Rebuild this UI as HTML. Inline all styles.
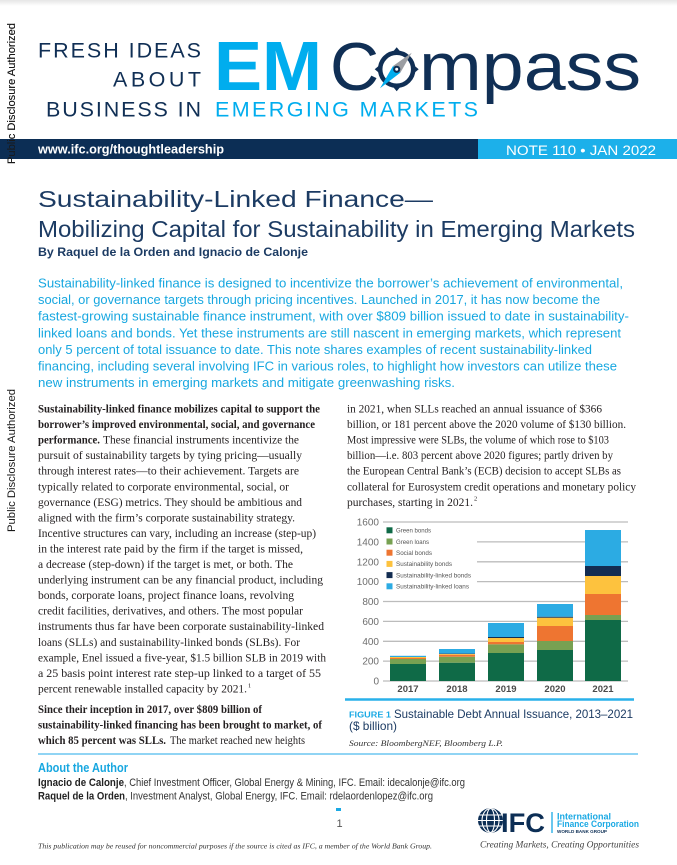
<!DOCTYPE html>
<html><head><meta charset="utf-8">
<style>
html,body{margin:0;padding:0;background:#fff;width:677px;height:865px;overflow:hidden;}
svg{display:block;}
</style></head><body>
<svg width="677" height="865" viewBox="0 0 677 865" xmlns="http://www.w3.org/2000/svg">
<defs>
<linearGradient id="topg" x1="0" y1="0" x2="0" y2="1"><stop offset="0" stop-color="#e6e6e6"/><stop offset="1" stop-color="#ffffff"/></linearGradient>
</defs>
<rect x="0" y="0" width="677" height="865" fill="#fff"/>
<rect x="0" y="0" width="677" height="6" fill="url(#topg)"/>

<!-- HEADER -->
<g font-family="Liberation Sans, sans-serif" fill="#102f55">
<text x="38" y="57.5" font-size="21.5" textLength="163" lengthAdjust="spacing">FRESH IDEAS</text>
<text x="113" y="86.5" font-size="21.5" textLength="88" lengthAdjust="spacing">ABOUT</text>
<text x="46" y="116.5" font-size="21.5" textLength="155" lengthAdjust="spacing">BUSINESS IN</text>
<text x="215" y="116.5" font-size="21.5" textLength="263" lengthAdjust="spacing" fill="#00adee">EMERGING MARKETS</text>
<text x="214" y="90" font-size="70" font-weight="bold" textLength="108" lengthAdjust="spacingAndGlyphs" fill="#00adee">EM</text>
<text x="330" y="90" font-size="68">C</text>
<text x="419" y="90" font-size="68" textLength="222" lengthAdjust="spacingAndGlyphs">mpass</text>
</g>
<!-- compass icon -->
<g transform="translate(396.7,69.3)">
<path d="M0,-22 L5,-16 L-5,-16 Z M22,0 L16,5 L16,-5 Z M0,22 L5,16 L-5,16 Z M-22,0 L-16,5 L-16,-5 Z" fill="#102f55"/>
<circle cx="0" cy="0" r="16.5" fill="none" stroke="#102f55" stroke-width="4.5"/>
<polygon points="15,-16.6 3.7,3.35 -3.7,-3.35" fill="#9b9ea3"/>
<polygon points="-16.7,19 3.7,3.35 -3.7,-3.35" fill="#00adee"/>
<circle cx="0" cy="0" r="3.6" fill="#102f55"/>
<circle cx="0" cy="0" r="1.5" fill="#fff"/>
</g>

<!-- side disclosure text -->
<g font-family="Liberation Sans, sans-serif" font-size="11" fill="#1a1a1a">
<text transform="translate(15,164) rotate(-90)" textLength="141" lengthAdjust="spacingAndGlyphs">Public Disclosure Authorized</text>
<text transform="translate(15,532) rotate(-90)" textLength="143" lengthAdjust="spacingAndGlyphs">Public Disclosure Authorized</text>
</g>

<!-- bar -->
<rect x="20" y="139" width="458" height="20" fill="#0c2e55"/>
<rect x="0" y="139" width="20" height="20" fill="#0c2e55"/>
<rect x="478" y="139" width="199" height="20" fill="#1cb0ea"/>
<g font-family="Liberation Sans, sans-serif" fill="#fff">
<text x="38" y="153.5" font-size="12.5" font-weight="bold" textLength="186" lengthAdjust="spacingAndGlyphs">www.ifc.org/thoughtleadership</text>
<text x="506" y="155" font-size="13.5" textLength="150" lengthAdjust="spacingAndGlyphs">NOTE 110  •  JAN 2022</text>
</g>
<!-- redraw side text over bar -->
<g font-family="Liberation Sans, sans-serif" font-size="11" fill="#1a1a1a">
<text transform="translate(15,164) rotate(-90)" textLength="141" lengthAdjust="spacingAndGlyphs">Public Disclosure Authorized</text>
</g>

<!-- TITLE -->
<g font-family="Liberation Sans, sans-serif" fill="#1c3b63">
<text x="38" y="207" font-size="23.5" textLength="395" lengthAdjust="spacingAndGlyphs">Sustainability-Linked Finance—</text>
<text x="38" y="237" font-size="23" textLength="597" lengthAdjust="spacingAndGlyphs">Mobilizing Capital for Sustainability in Emerging Markets</text>
<text x="38" y="256" font-size="12" font-weight="bold" textLength="270" lengthAdjust="spacingAndGlyphs">By Raquel de la Orden and Ignacio de Calonje</text>
</g>

<!-- BLUE INTRO -->
<g font-family="Liberation Sans, sans-serif" font-size="12.6" fill="#17a7e0">
<text x="38" y="287.5" textLength="585" lengthAdjust="spacingAndGlyphs">Sustainability-linked finance is designed to incentivize the borrower’s achievement of environmental,</text>
<text x="38" y="304.1" textLength="562" lengthAdjust="spacingAndGlyphs">social, or governance targets through pricing incentives. Launched in 2017, it has now become the</text>
<text x="38" y="320.7" textLength="591" lengthAdjust="spacingAndGlyphs">fastest-growing sustainable finance instrument, with over $809 billion issued to date in sustainability-</text>
<text x="38" y="337.3" textLength="583" lengthAdjust="spacingAndGlyphs">linked loans and bonds. Yet these instruments are still nascent in emerging markets, which represent</text>
<text x="38" y="353.9" textLength="554" lengthAdjust="spacingAndGlyphs">only 5 percent of total issuance to date. This note shares examples of recent sustainability-linked</text>
<text x="38" y="370.5" textLength="579" lengthAdjust="spacingAndGlyphs">financing, including several involving IFC in various roles, to highlight how investors can utilize these</text>
<text x="38" y="387.1" textLength="417" lengthAdjust="spacingAndGlyphs">new instruments in emerging markets and mitigate greenwashing risks.</text>
</g>

<!-- LEFT COLUMN -->
<g font-family="Liberation Serif, serif" font-size="11.4" fill="#231f20">
<text x="38" y="412.5" font-weight="bold" textLength="282" lengthAdjust="spacingAndGlyphs">Sustainability-linked finance mobilizes capital to support the</text>
<text x="38" y="428.05" font-weight="bold" textLength="277" lengthAdjust="spacingAndGlyphs">borrower’s improved environmental, social, and governance</text>
<text x="38" y="443.6" font-weight="bold" textLength="62" lengthAdjust="spacingAndGlyphs">performance.</text>
<text x="103" y="443.6" textLength="196" lengthAdjust="spacingAndGlyphs">These financial instruments incentivize the</text>
<text x="38" y="459.15" textLength="264" lengthAdjust="spacingAndGlyphs">pursuit of sustainability targets by tying pricing—usually</text>
<text x="38" y="474.7" textLength="261" lengthAdjust="spacingAndGlyphs">through interest rates—to their achievement. Targets are</text>
<text x="38" y="490.25" textLength="251" lengthAdjust="spacingAndGlyphs">typically related to corporate environmental, social, or</text>
<text x="38" y="505.8" textLength="264" lengthAdjust="spacingAndGlyphs">governance (ESG) metrics. They should be ambitious and</text>
<text x="38" y="521.35" textLength="257" lengthAdjust="spacingAndGlyphs">aligned with the firm’s corporate sustainability strategy.</text>
<text x="38" y="536.9" textLength="278" lengthAdjust="spacingAndGlyphs">Incentive structures can vary, including an increase (step-up)</text>
<text x="38" y="552.45" textLength="265" lengthAdjust="spacingAndGlyphs">in the interest rate paid by the firm if the target is missed,</text>
<text x="38" y="568" textLength="255" lengthAdjust="spacingAndGlyphs">a decrease (step-down) if the target is met, or both. The</text>
<text x="38" y="583.55" textLength="285" lengthAdjust="spacingAndGlyphs">underlying instrument can be any financial product, including</text>
<text x="38" y="599.1" textLength="256" lengthAdjust="spacingAndGlyphs">bonds, corporate loans, project finance loans, revolving</text>
<text x="38" y="614.65" textLength="265" lengthAdjust="spacingAndGlyphs">credit facilities, derivatives, and others. The most popular</text>
<text x="38" y="630.2" textLength="286" lengthAdjust="spacingAndGlyphs">instruments thus far have been corporate sustainability-linked</text>
<text x="38" y="645.75" textLength="262" lengthAdjust="spacingAndGlyphs">loans (SLLs) and sustainability-linked bonds (SLBs). For</text>
<text x="38" y="661.3" textLength="288" lengthAdjust="spacingAndGlyphs">example, Enel issued a five-year, $1.5 billion SLB in 2019 with</text>
<text x="38" y="676.85" textLength="283" lengthAdjust="spacingAndGlyphs">a 25 basis point interest rate step-up linked to a target of 55</text>
<text x="38" y="692.4" textLength="209" lengthAdjust="spacingAndGlyphs">percent renewable installed capacity by 2021.</text>
<text x="248" y="687.5" font-size="6.5">1</text>
<text x="38" y="712.8" font-weight="bold" textLength="224" lengthAdjust="spacingAndGlyphs">Since their inception in 2017, over $809 billion of</text>
<text x="38" y="728.4" font-weight="bold" textLength="284" lengthAdjust="spacingAndGlyphs">sustainability-linked financing has been brought to market, of</text>
<text x="38" y="744" font-weight="bold" textLength="128" lengthAdjust="spacingAndGlyphs">which 85 percent was SLLs.</text>
<text x="170" y="744" textLength="135" lengthAdjust="spacingAndGlyphs">The market reached new heights</text>
</g>

<!-- RIGHT COLUMN -->
<g font-family="Liberation Serif, serif" font-size="11.4" fill="#231f20">
<text x="347" y="412.5" textLength="255" lengthAdjust="spacingAndGlyphs">in 2021, when SLLs reached an annual issuance of $366</text>
<text x="347" y="428.05" textLength="279" lengthAdjust="spacingAndGlyphs">billion, or 181 percent above the 2020 volume of $130 billion.</text>
<text x="347" y="443.6" textLength="262" lengthAdjust="spacingAndGlyphs">Most impressive were SLBs, the volume of which rose to $103</text>
<text x="347" y="459.15" textLength="266" lengthAdjust="spacingAndGlyphs">billion—i.e. 803 percent above 2020 figures; partly driven by</text>
<text x="347" y="474.7" textLength="274" lengthAdjust="spacingAndGlyphs">the European Central Bank’s (ECB) decision to accept SLBs as</text>
<text x="347" y="490.25" textLength="289" lengthAdjust="spacingAndGlyphs">collateral for Eurosystem credit operations and monetary policy</text>
<text x="347" y="505.8" textLength="126" lengthAdjust="spacingAndGlyphs">purchases, starting in 2021.</text>
<text x="474" y="500.5" font-size="6.5">2</text>
</g>

<!-- CHART -->
<g stroke="#bcbcbc" stroke-width="1.3">
<line x1="383" y1="522" x2="628" y2="522"/>
<line x1="383" y1="541.9" x2="628" y2="541.9"/>
<line x1="383" y1="561.8" x2="628" y2="561.8"/>
<line x1="383" y1="581.6" x2="628" y2="581.6"/>
<line x1="383" y1="601.5" x2="628" y2="601.5"/>
<line x1="383" y1="621.4" x2="628" y2="621.4"/>
<line x1="383" y1="641.3" x2="628" y2="641.3"/>
<line x1="383" y1="661.1" x2="628" y2="661.1"/>
<line x1="383" y1="681" x2="628" y2="681"/>
</g>
<g font-family="Liberation Sans, sans-serif" font-size="10" fill="#6e6e6e" text-anchor="end">
<text x="379" y="525.5">1600</text>
<text x="379" y="545.4">1400</text>
<text x="379" y="565.3">1200</text>
<text x="379" y="585.1">1000</text>
<text x="379" y="605">800</text>
<text x="379" y="624.9">600</text>
<text x="379" y="644.8">400</text>
<text x="379" y="664.6">200</text>
<text x="379" y="684.5">0</text>
</g>
<!-- legend -->
<rect x="383" y="525.5" width="94" height="68" fill="#fff"/>
<rect x="386.5" y="527.3" width="6" height="6" fill="#0f6a47"/>
<rect x="386.5" y="538.5" width="6" height="6" fill="#77a152"/>
<rect x="386.5" y="549.7" width="6" height="6" fill="#ee7531"/>
<rect x="386.5" y="560.9" width="6" height="6" fill="#fdc23e"/>
<rect x="386.5" y="572.1" width="6" height="6" fill="#132d52"/>
<rect x="386.5" y="583.3" width="6" height="6" fill="#2cabe3"/>
<g font-family="Liberation Sans, sans-serif" font-size="6.5" fill="#555">
<text x="396" y="532.6" textLength="35" lengthAdjust="spacingAndGlyphs">Green bonds</text>
<text x="396" y="543.8" textLength="33" lengthAdjust="spacingAndGlyphs">Green loans</text>
<text x="396" y="555" textLength="36" lengthAdjust="spacingAndGlyphs">Social bonds</text>
<text x="396" y="566.2" textLength="56" lengthAdjust="spacingAndGlyphs">Sustainability bonds</text>
<text x="396" y="577.4" textLength="75" lengthAdjust="spacingAndGlyphs">Sustainability-linked bonds</text>
<text x="396" y="588.6" textLength="73" lengthAdjust="spacingAndGlyphs">Sustainability-linked loans</text>
</g>
<!-- bars -->
<g>
<!-- 2017 -->
<rect x="390" y="664" width="36" height="17" fill="#0f6a47"/>
<rect x="390" y="659" width="36" height="5" fill="#77a152"/>
<rect x="390" y="658" width="36" height="1" fill="#ee7531"/>
<rect x="390" y="657" width="36" height="1" fill="#fdc23e"/>
<rect x="390" y="655.8" width="36" height="1.2" fill="#2cabe3"/>
<!-- 2018 -->
<rect x="439" y="662.7" width="36" height="18.3" fill="#0f6a47"/>
<rect x="439" y="656.7" width="36" height="6" fill="#77a152"/>
<rect x="439" y="654.7" width="36" height="2" fill="#ee7531"/>
<rect x="439" y="654" width="36" height="0.7" fill="#fdc23e"/>
<rect x="439" y="653.6" width="36" height="0.4" fill="#132d52"/>
<rect x="439" y="649" width="36" height="4.6" fill="#2cabe3"/>
<!-- 2019 -->
<rect x="488" y="653" width="36" height="28" fill="#0f6a47"/>
<rect x="488" y="644.3" width="36" height="8.7" fill="#77a152"/>
<rect x="488" y="642" width="36" height="2.3" fill="#ee7531"/>
<rect x="488" y="638" width="36" height="4" fill="#fdc23e"/>
<rect x="488" y="637" width="36" height="1" fill="#132d52"/>
<rect x="488" y="623" width="36" height="14" fill="#2cabe3"/>
<!-- 2020 -->
<rect x="537" y="650" width="36" height="31" fill="#0f6a47"/>
<rect x="537" y="641" width="36" height="9" fill="#77a152"/>
<rect x="537" y="626" width="36" height="15" fill="#ee7531"/>
<rect x="537" y="617.7" width="36" height="8.3" fill="#fdc23e"/>
<rect x="537" y="616.7" width="36" height="1" fill="#132d52"/>
<rect x="537" y="604" width="36" height="12.7" fill="#2cabe3"/>
<!-- 2021 -->
<rect x="585" y="620" width="36" height="61" fill="#0f6a47"/>
<rect x="585" y="615" width="36" height="5" fill="#77a152"/>
<rect x="585" y="594" width="36" height="21" fill="#ee7531"/>
<rect x="585" y="576" width="36" height="18" fill="#fdc23e"/>
<rect x="585" y="566" width="36" height="10" fill="#132d52"/>
<rect x="585" y="530" width="36" height="36" fill="#2cabe3"/>
</g>
<g font-family="Liberation Sans, sans-serif" font-size="9.5" font-weight="bold" fill="#4a4a4a" text-anchor="middle">
<text x="408" y="692">2017</text>
<text x="457" y="692">2018</text>
<text x="506" y="692">2019</text>
<text x="555" y="692">2020</text>
<text x="603" y="692">2021</text>
</g>
<line x1="345" y1="699.5" x2="634" y2="699.5" stroke="#29b1ea" stroke-width="2.4"/>
<g font-family="Liberation Sans, sans-serif">
<text x="349" y="717.5" font-size="8" font-weight="bold" fill="#1aa9e4" textLength="42" lengthAdjust="spacingAndGlyphs">FIGURE 1</text>
<text x="394" y="718" font-size="12" fill="#1c3b63" textLength="239" lengthAdjust="spacingAndGlyphs">Sustainable Debt Annual Issuance, 2013–2021</text>
<text x="349" y="730" font-size="12" fill="#1c3b63" textLength="48" lengthAdjust="spacingAndGlyphs">($ billion)</text>
</g>
<text x="349" y="746" font-family="Liberation Serif, serif" font-style="italic" font-size="8" fill="#333" textLength="154" lengthAdjust="spacingAndGlyphs">Source: BloombergNEF, Bloomberg L.P.</text>

<line x1="38" y1="754" x2="638" y2="754" stroke="#6cc6f0" stroke-width="1.6"/>

<!-- AUTHOR -->
<g font-family="Liberation Sans, sans-serif">
<text x="38" y="772" font-size="12.5" font-weight="bold" fill="#17a7e0" textLength="90" lengthAdjust="spacingAndGlyphs">About the Author</text>
<text x="38" y="786" font-size="11" font-weight="bold" fill="#222" textLength="86" lengthAdjust="spacingAndGlyphs">Ignacio de Calonje</text>
<text x="124" y="786" font-size="11" fill="#333" textLength="341" lengthAdjust="spacingAndGlyphs">, Chief Investment Officer, Global Energy &amp; Mining, IFC. Email: idecalonje@ifc.org</text>
<text x="38" y="799.5" font-size="11" font-weight="bold" fill="#222" textLength="87" lengthAdjust="spacingAndGlyphs">Raquel de la Orden</text>
<text x="125" y="799.5" font-size="11" fill="#333" textLength="308" lengthAdjust="spacingAndGlyphs">, Investment Analyst, Global Energy, IFC. Email: rdelaordenlopez@ifc.org</text>
</g>

<!-- page number -->
<rect x="336" y="808" width="5" height="3" fill="#1aa9e4"/>
<text x="336.5" y="827" font-family="Liberation Sans, sans-serif" font-size="11" fill="#555">1</text>

<!-- disclaimer -->
<text x="38" y="848.5" font-family="Liberation Serif, serif" font-style="italic" font-size="7" fill="#333" textLength="394" lengthAdjust="spacingAndGlyphs">This publication may be reused for noncommercial purposes if the source is cited as IFC, a member of the World Bank Group.</text>

<!-- IFC logo -->
<g transform="translate(490.5,820.5)">
<circle cx="0" cy="0" r="12.5" fill="#0c2e55"/>
<g fill="none" stroke="#fff" stroke-width="1.1">
<ellipse cx="0" cy="0" rx="4" ry="12"/>
<ellipse cx="0" cy="0" rx="8.5" ry="12"/>
<line x1="-12" y1="-5.5" x2="12" y2="-5.5"/>
<line x1="-12.5" y1="0" x2="12.5" y2="0"/>
<line x1="-12" y1="5.5" x2="12" y2="5.5"/>
</g>
</g>
<text x="501" y="832" font-family="Liberation Sans, sans-serif" font-size="27" font-weight="bold" fill="#0c2e55" textLength="44" lengthAdjust="spacingAndGlyphs">IFC</text>
<line x1="552" y1="812" x2="552" y2="833" stroke="#1aa9e4" stroke-width="1.3"/>
<g font-family="Liberation Sans, sans-serif" font-weight="bold">
<text x="557" y="819.5" font-size="9" fill="#1aa9e4" textLength="54" lengthAdjust="spacingAndGlyphs">International</text>
<text x="557" y="827" font-size="9" fill="#1aa9e4" textLength="82" lengthAdjust="spacingAndGlyphs">Finance Corporation</text>
<text x="557" y="833" font-size="4.5" fill="#0c2e55" textLength="50" lengthAdjust="spacingAndGlyphs">WORLD BANK GROUP</text>
</g>
<text x="480" y="847.5" font-family="Liberation Serif, serif" font-style="italic" font-size="9.5" fill="#444" textLength="159" lengthAdjust="spacingAndGlyphs">Creating Markets, Creating Opportunities</text>
</svg>
</body></html>
